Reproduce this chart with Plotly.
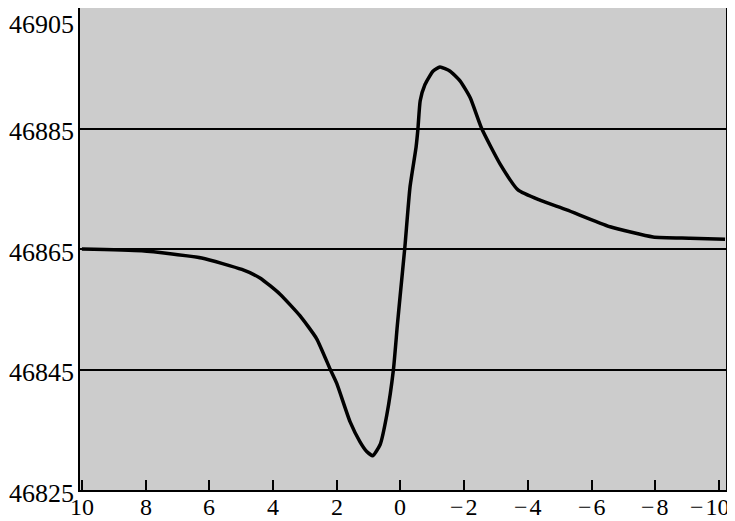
import plotly.graph_objects as go

# curve
x_vals = [10.0, 8.12, 6.24, 4.98, 4.41, 3.78, 3.15, 2.63, 2.21, 2.00, 1.58, 1.27,
          1.06, 0.87, 0.64, 0.43, 0.22, 0.10, 0.01, -0.14, -0.30, -0.49, -0.55,
          -0.62, -0.77, -1.02, -1.24, -1.56, -1.87, -2.19, -2.55, -3.13, -3.69,
          -4.38, -5.22, -6.58, -7.93, -9.09, -10.19]
y_vals = [46865.0, 46864.7, 46863.5, 46861.6, 46860.2, 46857.5, 46853.9, 46850.1,
          46845.1, 46842.7, 46836.3, 46833.0, 46831.4, 46830.7, 46832.5, 46837.4,
          46845.0, 46852.2, 46857.2, 46865.4, 46875.3, 46881.9, 46885.0, 46889.6,
          46892.3, 46894.5, 46895.2, 46894.5, 46892.9, 46890.1, 46885.0, 46879.1,
          46874.8, 46873.1, 46871.5, 46868.7, 46867.0, 46866.8, 46866.6]

x_ticks = [10, 8, 6, 4, 2, 0, -2, -4, -6, -8, -10]
x_labels = ["10", "8", "6", "4", "2", "0", "\u2212\u200a2", "\u2212\u200a4",
            "\u2212\u200a6", "\u2212\u200a8", "\u2212\u200a10"]
y_ticks = [46825, 46845, 46865, 46885, 46905]
y_labels = ["46825", "46845", "46865", "46885", "46905"]

serif = "Liberation Serif, Times New Roman, serif"

fig = go.Figure(go.Scatter(
    x=x_vals, y=y_vals, mode="lines",
    line=dict(color="black", width=3.5, shape="spline", smoothing=0.5),
    showlegend=False,
))

# the page body adds an 8px offset, so the figure is sized to fit what is left
fig.update_layout(
    width=727, height=513,
    margin=dict(l=72, r=9, t=0, b=31),
    paper_bgcolor="white",
    plot_bgcolor="#cccccc",
    font=dict(family=serif, size=26, color="black"),
)

fig.update_xaxes(
    range=[10.06, -10.22],
    tickvals=x_ticks, showticklabels=False,
    ticks="inside", ticklen=10, tickwidth=1.5, tickcolor="black",
    showgrid=False, zeroline=False,
    showline=True, linecolor="black", linewidth=2, mirror=True,
    automargin=False,
)
fig.update_yaxes(
    range=[46825, 46905],
    tickvals=y_ticks, showticklabels=False,
    showgrid=True, gridcolor="black", gridwidth=1.5,
    zeroline=False,
    showline=True, linecolor="black", linewidth=2, mirror=True,
    ticks="", automargin=False,
)

# tick labels as annotations so the edge ones stay inside the page
for val, txt in zip(x_ticks, x_labels):
    fig.add_annotation(
        x=val, xref="x", xanchor="center",
        xshift=-9 if val == x_ticks[-1] else 0,
        y=0, yref="paper", yanchor="top", yshift=-2,
        text=txt, showarrow=False,
        font=dict(family=serif, size=24, color="black"),
    )

for val, txt in zip(y_ticks, y_labels):
    top = val == y_ticks[-1]
    fig.add_annotation(
        x=0, xref="paper", xanchor="right", xshift=-4,
        y=val, yref="y", yanchor="top" if top else "middle",
        yshift=0 if top else -3,
        text=txt, showarrow=False,
        font=dict(family=serif, size=26, color="black"),
    )

fig.write_html("out.html")
